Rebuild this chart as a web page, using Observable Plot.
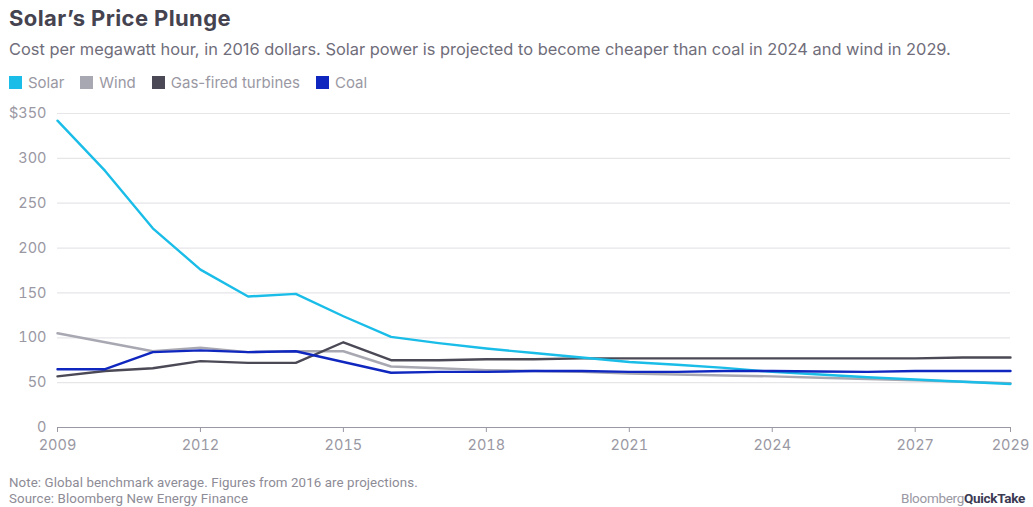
<!DOCTYPE html>
<html>
<head>
<meta charset="utf-8">
<script src="https://cdn.jsdelivr.net/npm/d3@7"></script>
<script src="https://cdn.jsdelivr.net/npm/@observablehq/plot@0.6"></script>
<style>
  html, body { margin: 0; padding: 0; background: #fff; }
  #wrap { position: relative; width: 1033px; height: 507px; overflow: hidden; font-family: "Inter", "Liberation Sans", sans-serif; }
  #title { position: absolute; left: 9px; top: 5px; font-size: 22px; font-weight: 700; color: #45434f; letter-spacing: 0.4px; }
  #subtitle { position: absolute; left: 9px; top: 39px; font-size: 16.4px; color: #6f6d7a; white-space: nowrap; }
  #legend { position: absolute; left: 9px; top: 73px; font-size: 15px; color: #9a98a3; display: flex; gap: 0; }
  .item { display: flex; align-items: center; margin-right: 16px; }
  .sw { width: 13px; height: 13px; margin-right: 6px; }
  #chart { position: absolute; left: 0; top: 100px; }
  #note { position: absolute; left: 9px; top: 475px; font-size: 13.3px; color: #8d8b96; line-height: 15.5px; font-family: "Roboto", sans-serif; letter-spacing: 0.1px; }
  #brand { position: absolute; right: 8px; top: 490px; font-size: 13.5px; color: #9a98a3; font-family: "Roboto", sans-serif; letter-spacing: -0.3px; }
  #brand b { color: #3b3a52; font-weight: 700; }
</style>
</head>
<body>
<div id="wrap">
  <div id="title">Solar’s Price Plunge</div>
  <div id="subtitle">Cost per megawatt hour, in 2016 dollars. Solar power is projected to become cheaper than coal in 2024 and wind in 2029.</div>
  <div id="legend"></div>
  <div id="chart"></div>
  <div id="note">Note: Global benchmark average. Figures from 2016 are projections.<br>Source: Bloomberg New Energy Finance</div>
  <div id="brand">Bloomberg<b>QuickTake</b></div>
</div>
<script>
const years = [2009,2010,2011,2012,2013,2014,2015,2016,2017,2018,2019,2020,2021,2022,2023,2024,2025,2026,2027,2028,2029];
const solar = [342,286,222,176,146,149,124,101,94,88,83,78,73,70,66.5,62,59,56,53.5,51,48.5];
const wind  = [105,95,85,89,84,85,85,68,66,64,63,62,60,59,58,57,55.5,54,52.5,51,49.5];
const gas   = [57,63,66,74,72,72,95,75,75,76,76,77,77,77,77,77,77,77,77,78,78];
const coal  = [65,65,84,86,84,85,73,61,62,62,63,63,62,62,63,63,62.5,62,63,63,63];
const seriesNames = ["Solar","Wind","Gas-fired turbines","Coal"];
const seriesColors = ["#19bde8","#a8a8b2","#4a4955","#1027bf"];
const xTicks = [2009,2012,2015,2018,2021,2024,2027,2029];
const yTicks = [0,50,100,150,200,250,300,350];

const legend = document.getElementById("legend");
seriesNames.forEach((n,i) => {
  const it = document.createElement("div"); it.className = "item";
  const sw = document.createElement("div"); sw.className = "sw"; sw.style.background = seriesColors[i];
  const t = document.createElement("span"); t.textContent = n;
  it.appendChild(sw); it.appendChild(t); legend.appendChild(it);
});

const valuesBy = {"Solar": solar, "Wind": wind, "Gas-fired turbines": gas, "Coal": coal};
const drawOrder = ["Wind","Gas-fired turbines","Solar","Coal"];
const rows = [];
drawOrder.forEach(s => years.forEach((y,i) => rows.push({series: s, year: y, value: valuesBy[s][i]})));

const chart = Plot.plot({
  width: 1033,
  height: 365,
  marginTop: 13,
  marginBottom: 38,
  marginLeft: 57,
  marginRight: 23,
  style: {fontFamily: "Inter, 'Liberation Sans', sans-serif", fontSize: "14.5px", color: "#9a98a3", background: "transparent"},
  x: {domain: [2009, 2029]},
  y: {domain: [0, 350]},
  color: {domain: seriesNames, range: seriesColors},
  marks: [
    Plot.ruleY(yTicks.filter(d => d > 0), {stroke: "#e6e6e9", strokeWidth: 1.2}),
    Plot.axisY({ticks: yTicks, tickSize: 0, tickPadding: 11, label: null, tickFormat: d => d === 350 ? "$350" : String(d), fill: "#9a98a3"}),
    Plot.axisX({ticks: xTicks, tickSize: 5, tickPadding: 7, label: null, tickFormat: d => String(d), stroke: "#9a98a3", fill: "#9a98a3"}),
    Plot.ruleY([0], {stroke: "#9a98a3", strokeWidth: 1.2}),
    Plot.lineY(rows, {x: "year", y: "value", z: "series", stroke: "series", strokeWidth: 2.4, strokeLinejoin: "round"})
  ]
});
document.getElementById("chart").appendChild(chart);
</script>
</body>
</html>
